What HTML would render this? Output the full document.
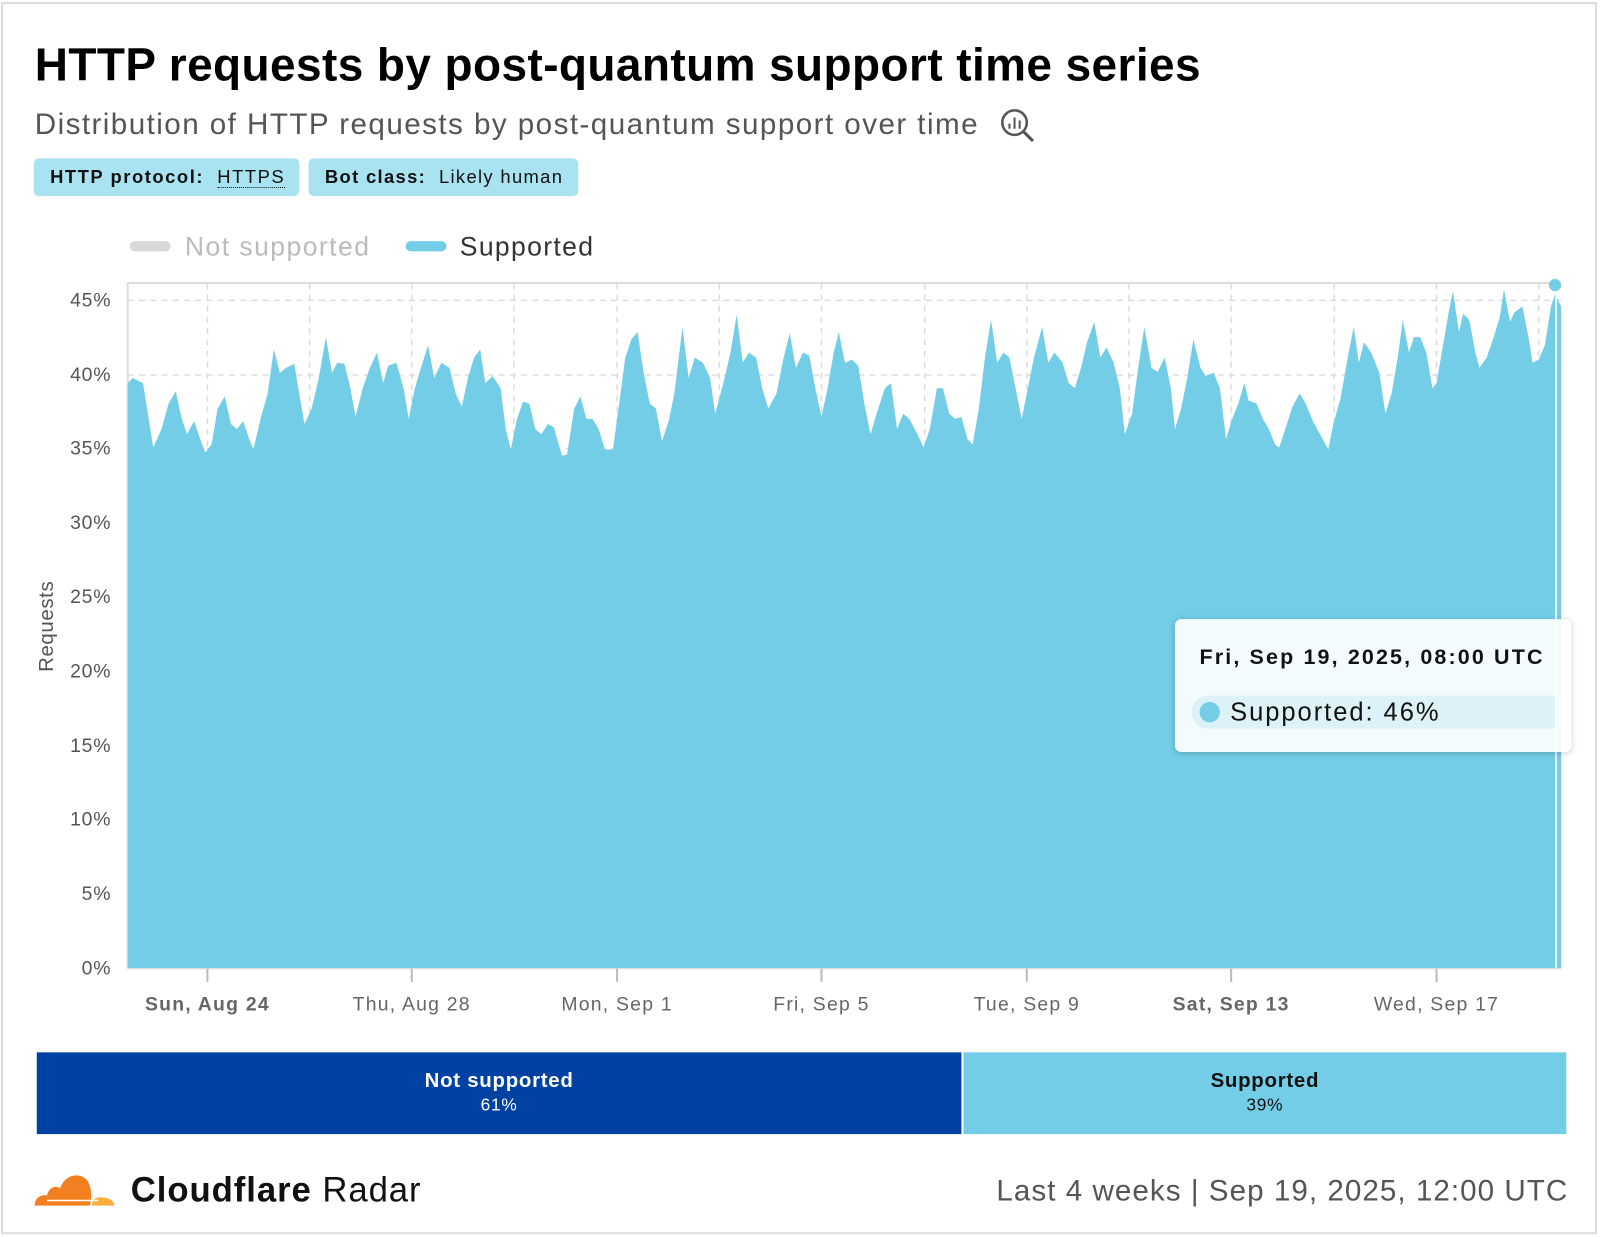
<!DOCTYPE html>
<html><head><meta charset="utf-8"><style>
html,body{margin:0;padding:0;background:#fff;width:1600px;height:1237px;overflow:hidden}
#w{position:absolute;left:0;top:0;width:1566px;height:1211px;transform:scale(1.02171);transform-origin:0 0;font-family:"Liberation Sans",sans-serif}
.card{position:absolute;left:1px;top:2px;width:1562px;height:1206px;border:2px solid #ddd;box-sizing:border-box}
.t{position:absolute;white-space:nowrap}
</style></head><body><div id="w">
<div class="card"></div>
<div class="t" style="left:34px;top:38px;font-size:45px;font-weight:bold;color:#000;letter-spacing:0.4px">HTTP requests by post-quantum support time series</div>
<div class="t" style="left:34px;top:106px;font-size:29px;color:#555;letter-spacing:1.4px">Distribution of HTTP requests by post-quantum support over time</div>
<svg class="t" style="left:976px;top:104px" width="40" height="40"><circle cx="17" cy="16" r="12" fill="none" stroke="#555" stroke-width="2.5"/><line x1="26" y1="25" x2="35" y2="34" stroke="#555" stroke-width="3"/><line x1="12" y1="22" x2="12" y2="17" stroke="#555" stroke-width="2"/><line x1="17" y1="22" x2="17" y2="11" stroke="#555" stroke-width="2"/><line x1="22" y1="22" x2="22" y2="14" stroke="#555" stroke-width="2"/></svg>
<div class="t" style="left:33px;top:155px;width:260px;height:37px;background:#a9e2f0;border-radius:5px"></div>
<div class="t" style="left:302px;top:155px;width:264px;height:37px;background:#a9e2f0;border-radius:5px"></div>
<div class="t" style="left:49px;top:163px;font-size:18px;color:#111;letter-spacing:1.5px"><b>HTTP protocol:</b>&nbsp; <span style="border-bottom:1px dotted #111">HTTPS</span></div>
<div class="t" style="left:318px;top:163px;font-size:18px;color:#111;letter-spacing:1.3px"><b>Bot class:</b>&nbsp; Likely human</div>
<div class="t" style="left:127px;top:236px;width:40px;height:10px;border-radius:5px;background:#d9d9d9"></div>
<div class="t" style="left:181px;top:226px;font-size:26px;color:#bbb;letter-spacing:1.4px">Not supported</div>
<div class="t" style="left:397px;top:236px;width:40px;height:10px;border-radius:5px;background:#74cde6"></div>
<div class="t" style="left:450px;top:226px;font-size:26px;color:#333;letter-spacing:1.3px">Supported</div>

<svg class="t" style="left:0;top:0" width="1566" height="1030">
<g stroke="#ddd" stroke-width="1.5" stroke-dasharray="6,5">
<line x1="125" y1="294" x2="1528" y2="294"/><line x1="125" y1="367" x2="1528" y2="367"/><line x1="125" y1="439" x2="1528" y2="439"/>
<line x1="203" y1="277" x2="203" y2="948"/><line x1="303" y1="277" x2="303" y2="948"/><line x1="403" y1="277" x2="403" y2="948"/><line x1="503" y1="277" x2="503" y2="948"/><line x1="604" y1="277" x2="604" y2="948"/><line x1="704" y1="277" x2="704" y2="948"/><line x1="804" y1="277" x2="804" y2="948"/><line x1="905" y1="277" x2="905" y2="948"/><line x1="1005" y1="277" x2="1005" y2="948"/><line x1="1105" y1="277" x2="1105" y2="948"/><line x1="1205" y1="277" x2="1205" y2="948"/><line x1="1306" y1="277" x2="1306" y2="948"/><line x1="1406" y1="277" x2="1406" y2="948"/><line x1="1506" y1="277" x2="1506" y2="948"/>
</g>
<line x1="125" y1="277" x2="1528" y2="277" stroke="#ddd" stroke-width="2"/>
<line x1="125" y1="277" x2="125" y2="948" stroke="#ddd" stroke-width="2"/>
<polygon fill="#74cde6" points="125,948 125,375 130,370 140,375 150,438 158,420 165,395 172,383 178,410 183,425 190,412 196,430 201,443 207,435 213,400 220,388 226,415 232,420 238,412 244,430 248,440 255,410 262,385 268,342 274,365 280,360 288,356 292,380 298,415 305,400 312,370 319,330 325,365 330,355 337,356 343,380 348,408 355,380 362,360 369,345 375,375 380,358 388,355 395,380 400,410 406,380 412,360 419,338 425,370 432,355 440,360 446,385 452,398 458,370 464,350 470,342 475,375 482,368 490,380 495,420 500,440 506,410 512,393 518,395 524,420 530,425 536,415 542,418 550,446 555,445 562,400 568,388 574,410 580,410 586,420 592,440 600,440 606,395 612,350 618,332 624,325 630,365 636,395 642,400 648,432 655,410 660,385 668,320 674,370 680,350 688,355 695,370 700,405 708,375 715,345 721,308 727,355 733,345 740,350 746,380 752,400 760,385 767,350 773,326 779,360 786,345 792,348 798,380 804,408 810,380 816,345 821,325 827,355 834,352 840,358 846,395 852,425 858,405 866,380 872,375 878,420 884,405 890,410 898,425 904,438 910,420 917,380 923,380 929,405 935,410 941,408 947,430 952,435 958,400 964,350 970,313 976,355 982,345 988,350 994,380 1000,410 1006,380 1012,350 1020,320 1026,355 1032,345 1040,355 1046,375 1052,380 1058,360 1064,335 1071,315 1077,350 1083,340 1090,355 1096,380 1101,425 1108,405 1114,360 1120,320 1127,360 1133,364 1140,350 1146,380 1150,420 1156,400 1162,370 1168,332 1175,360 1180,368 1188,365 1194,380 1200,430 1206,410 1212,395 1218,375 1222,392 1230,395 1236,410 1242,420 1248,435 1252,438 1258,420 1265,398 1272,385 1278,395 1285,412 1292,425 1300,440 1305,415 1312,390 1320,345 1325,320 1330,355 1335,335 1342,345 1350,365 1356,405 1362,385 1368,350 1373,313 1379,345 1384,330 1390,330 1396,345 1402,380 1406,375 1412,340 1418,305 1422,285 1428,325 1432,307 1438,313 1444,345 1448,360 1455,350 1462,330 1468,310 1472,283 1478,315 1482,306 1490,300 1496,330 1500,355 1506,352 1512,338 1518,300 1522,288 1528,300 1528,948"/>
<line x1="1523" y1="282" x2="1523" y2="948" stroke="#e8f7fb" stroke-width="2"/>
<circle cx="1522" cy="279" r="6" fill="#74cde6"/>
<line x1="125" y1="948" x2="1528" y2="948" stroke="#ddd" stroke-width="1.5"/>
<g stroke="#bbb" stroke-width="2"><line x1="203" y1="948" x2="203" y2="961"/><line x1="403" y1="948" x2="403" y2="961"/><line x1="604" y1="948" x2="604" y2="961"/><line x1="804" y1="948" x2="804" y2="961"/><line x1="1005" y1="948" x2="1005" y2="961"/><line x1="1205" y1="948" x2="1205" y2="961"/><line x1="1406" y1="948" x2="1406" y2="961"/></g>
<g font-size="19" fill="#555" text-anchor="end" letter-spacing="0.8">
<text x="109" y="300">45%</text><text x="109" y="373">40%</text><text x="109" y="445">35%</text><text x="109" y="518">30%</text><text x="109" y="590">25%</text><text x="109" y="663">20%</text><text x="109" y="736">15%</text><text x="109" y="808">10%</text><text x="109" y="881">5%</text><text x="109" y="954">0%</text>
</g>
<text x="0" y="0" font-size="20" fill="#555" text-anchor="middle" letter-spacing="0.6" transform="translate(52,613) rotate(-90)">Requests</text>
<g font-size="19" fill="#666" text-anchor="middle" letter-spacing="1.2">
<text x="203" y="989" font-weight="bold">Sun, Aug 24</text><text x="403" y="989">Thu, Aug 28</text><text x="604" y="989">Mon, Sep 1</text><text x="804" y="989">Fri, Sep 5</text><text x="1005" y="989">Tue, Sep 9</text><text x="1205" y="989" font-weight="bold">Sat, Sep 13</text><text x="1406" y="989">Wed, Sep 17</text>
</g>
</svg>

<div class="t" style="left:1150px;top:606px;width:388px;height:130px;background:rgba(255,255,255,0.92);border-radius:6px;box-shadow:0 1px 6px rgba(0,0,0,0.2)"></div>
<div class="t" style="left:1174px;top:632px;font-size:21px;font-weight:bold;color:#111;letter-spacing:2.1px">Fri, Sep 19, 2025, 08:00 UTC</div>
<div class="t" style="left:1166px;top:681px;width:356px;height:32px;background:#ddf1f8;border-radius:16px 0 0 16px"></div>
<div class="t" style="left:1174px;top:687px;width:20px;height:20px;border-radius:50%;background:#74cde6"></div>
<div class="t" style="left:1204px;top:683px;font-size:25px;color:#111;letter-spacing:1.9px">Supported: 46%</div>

<div class="t" style="left:36px;top:1030px;width:905px;height:80px;background:#0042a4"></div>
<div class="t" style="left:943px;top:1030px;width:590px;height:80px;background:#74cde6"></div>
<div class="t" style="left:36px;top:1047px;width:905px;text-align:center;color:#fff;font-size:20px;font-weight:bold;letter-spacing:0.7px">Not supported<br><span style="font-size:17px;font-weight:normal">61%</span></div>
<div class="t" style="left:943px;top:1047px;width:590px;text-align:center;color:#111;font-size:20px;font-weight:bold;letter-spacing:0.7px">Supported<br><span style="font-size:17px;font-weight:normal">39%</span></div>

<svg class="t" style="left:32px;top:1142px" width="82" height="40"><path d="M2,38 C2,30 8,27 14,28 C16,20 22,18 27,21 C31,8 46,4 54,14 C58,22 58,30 56,38 Z" fill="#f38020"/><path d="M58,38 C58,32 62,29 68,30 C74,30 80,33 80,38 Z" fill="#faae40"/><line x1="14" y1="33" x2="64" y2="33" stroke="#fff" stroke-width="1.5"/></svg>
<div class="t" style="left:128px;top:1146px;font-size:34px;color:#111;letter-spacing:0.9px"><b>Cloudflare</b> Radar</div>
<div class="t" style="right:31px;top:1150px;font-size:29px;color:#555;letter-spacing:1px">Last 4 weeks | Sep 19, 2025, 12:00 UTC</div>
</div></body></html>
